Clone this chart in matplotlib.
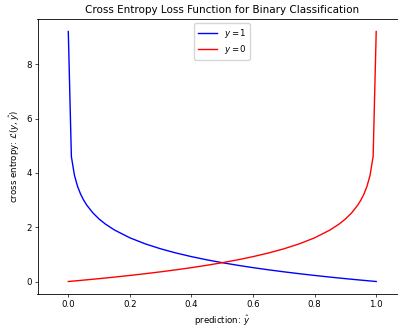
import matplotlib
matplotlib.use("Agg")
import matplotlib.pyplot as plt

# prediction values y_hat
y_hat = [0.00, 0.01, 0.02, 0.03, 0.04, 0.05, 0.06, 0.08, 0.10, 0.12, 0.15,
         0.20, 0.25, 0.30, 0.35, 0.40, 0.45, 0.50, 0.55, 0.60, 0.65, 0.70,
         0.75, 0.80, 0.85, 0.88, 0.90, 0.92, 0.94, 0.95, 0.96, 0.97, 0.98,
         0.99, 1.00]
# loss when true label y = 1
loss_y1 = [9.2103, 4.6052, 3.9120, 3.5066, 3.2189, 2.9957, 2.8134, 2.5257,
           2.3026, 2.1203, 1.8971, 1.6094, 1.3863, 1.2040, 1.0498, 0.9163,
           0.7985, 0.6931, 0.5978, 0.5108, 0.4308, 0.3567, 0.2877, 0.2231,
           0.1625, 0.1278, 0.1054, 0.0834, 0.0619, 0.0513, 0.0408, 0.0305,
           0.0202, 0.0101, 0.0001]
# loss when true label y = 0
loss_y0 = [0.0001, 0.0101, 0.0202, 0.0305, 0.0408, 0.0513, 0.0619, 0.0834,
           0.1054, 0.1278, 0.1625, 0.2231, 0.2877, 0.3567, 0.4308, 0.5108,
           0.5978, 0.6931, 0.7985, 0.9163, 1.0498, 1.2040, 1.3863, 1.6094,
           1.8971, 2.1203, 2.3026, 2.5257, 2.8134, 2.9957, 3.2189, 3.5066,
           3.9120, 4.6052, 9.2103]
series_labels = ["$y = 1$", "$y = 0$"]
x_ticks = [0.0, 0.2, 0.4, 0.6, 0.8, 1.0]
y_ticks = [0, 2, 4, 6, 8]

W, H = 398, 329
fig = plt.figure(figsize=(W / 100, H / 100), dpi=100)
left_px, right_px, top_px, bottom_px = 37.5, 407.0, 19.0, 294.0
ax = fig.add_axes([left_px / W, (H - bottom_px) / H,
                   (right_px - left_px) / W, (bottom_px - top_px) / H])

ax.plot(y_hat, loss_y1, color="blue", lw=1.0, label=series_labels[0])
ax.plot(y_hat, loss_y0, color="red", lw=1.0, label=series_labels[1])

ax.set_xlim(-0.1, 1.1)
ax.margins(y=0.05)
ax.set_xticks(x_ticks)
ax.set_yticks(y_ticks)
ax.tick_params(labelsize=6.2, width=0.5, length=2.2, pad=2)
for s in ax.spines.values():
    s.set_linewidth(0.6)

ax.set_title("Cross Entropy Loss Function for Binary Classification", fontsize=7.5, pad=4)
ax.set_xlabel(r"prediction: $\hat{y}$", fontsize=6.2, labelpad=3)
ax.set_ylabel(r"cross entropy: $\mathcal{L}(y, \hat{y})$", fontsize=6.2, labelpad=3)
ax.legend(loc="upper center", fontsize=6.2,
          handlelength=2.2, borderpad=0.4, labelspacing=0.4)

fig.savefig("out.png", dpi=100)
